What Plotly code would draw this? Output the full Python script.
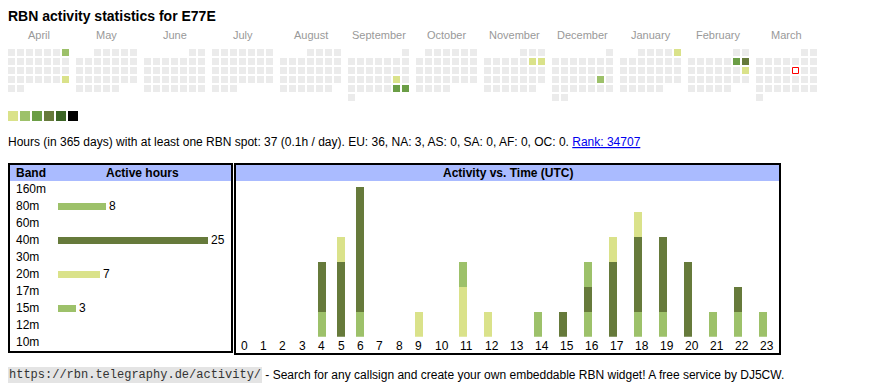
import datetime as dt
import plotly.graph_objects as go

# ---------------- data ----------------
CALLSIGN = "E77E"
MONTHS = ["April", "May", "June", "July", "August", "September", "October",
          "November", "December", "January", "February", "March"]
FIRST_DAY = "2024-04-01"
LAST_DAY = "2025-03-31"
TODAY = "2025-03-14"
ACTIVE_DAYS = ["2024-04-07", "2024-04-28", "2024-09-21", "2024-09-28", "2024-09-29",
               "2024-11-09", "2024-11-10", "2024-12-21", "2025-01-05", "2025-02-08",
               "2025-02-09", "2025-02-16"]
ACTIVE_LEVELS = [2, 1, 1, 3, 3, 1, 1, 2, 1, 3, 4, 1]

BANDS = ["160m", "80m", "60m", "40m", "30m", "20m", "17m", "15m", "12m", "10m"]
BAND_HOURS = [0, 8, 0, 25, 0, 7, 0, 3, 0, 0]

HOUR_LABELS = [str(h) for h in range(24)]
ACT_BANDS = ["80m", "40m", "20m", "15m"]
HOURS_80M = [0, 0, 0, 0, 1, 0, 1, 0, 0, 0, 0, 0, 0, 0, 0, 0, 1, 0, 1, 1, 0, 1, 1, 1]
HOURS_40M = [0, 0, 0, 0, 2, 3, 5, 0, 0, 0, 0, 0, 0, 0, 0, 1, 1, 3, 3, 3, 3, 0, 1, 0]
HOURS_20M = [0, 0, 0, 0, 0, 1, 0, 0, 0, 1, 0, 2, 1, 0, 0, 0, 0, 1, 1, 0, 0, 0, 0, 0]
HOURS_15M = [0, 0, 0, 0, 0, 0, 0, 0, 0, 0, 0, 1, 0, 0, 1, 0, 1, 0, 0, 0, 0, 0, 0, 0]

TOTAL_HOURS = 37
HOURS_PER_DAY = 0.1
CONTINENTS = ["EU", "NA", "AS", "SA", "AF", "OC"]
CONTINENT_HOURS = [36, 3, 0, 0, 0, 0]
RANK = 34707
SITE_URL = "https://rbn.telegraphy.de/activity/"
FOOTER_TEXT = " - Search for any callsign and create your own embeddable RBN widget! A free service by DJ5CW."

# ---------------- style ----------------
W, H = 870, 390
FONT = "Liberation Sans, Arial, Helvetica, sans-serif"
MONO = "Liberation Mono, Courier New, monospace"
LEVEL_COLORS = ["#dae28a", "#9dc16a", "#6b9e46", "#667a3b", "#3b6425", "#000000"]
EMPTY = "#ebebeb"
BAND_COLOR = {"160m": "#9dc16a", "80m": "#9dc16a", "60m": "#9dc16a", "40m": "#667a3b",
              "30m": "#6b9e46", "20m": "#dae28a", "17m": "#6b9e46", "15m": "#9dc16a",
              "12m": "#6b9e46", "10m": "#6b9e46"}
HEADER_BG = "#aabbff"
CAL_X0, CAL_Y0, CELL, SQ, MONTH_PITCH = 8, 49, 9, 7, 68

fig = go.Figure()
annotations = []
shapes = []


def txt(x, y, s, size=12, color="#000", bold=False, anchor="left", xref="x", yref="y", family=FONT, **kw):
    annotations.append(dict(x=x, y=y, xref=xref, yref=yref, text=f"<b>{s}</b>" if bold else s,
                            showarrow=False, xanchor=anchor, yanchor="middle",
                            font=dict(family=family, size=size, color=color),
                            borderpad=0, borderwidth=0, **kw))


# ---------------- calendar ----------------
active = dict(zip(ACTIVE_DAYS, ACTIVE_LEVELS))
first = dt.date.fromisoformat(FIRST_DAY)
end = dt.date.fromisoformat(LAST_DAY)


def cal_pos(d):
    mi = (d.year - first.year) * 12 + d.month - first.month
    idx = d.replace(day=1).weekday() + d.day - 1
    row, col = divmod(idx, 7)
    return CAL_X0 + mi * MONTH_PITCH + col * CELL + SQ / 2, CAL_Y0 + row * CELL + SQ / 2


cx, cy, cc = [], [], []
d = first
while d <= end:
    x, y = cal_pos(d)
    cx.append(x)
    cy.append(y)
    lvl = active.get(d.isoformat())
    cc.append(LEVEL_COLORS[lvl - 1] if lvl else EMPTY)
    d += dt.timedelta(days=1)

fig.add_trace(go.Scatter(x=cx, y=cy, mode="markers", xaxis="x", yaxis="y",
                         marker=dict(symbol="square", size=SQ, color=cc, line=dict(width=0)),
                         hoverinfo="skip", showlegend=False))
tx, ty = cal_pos(dt.date.fromisoformat(TODAY))
fig.add_trace(go.Scatter(x=[tx], y=[ty], mode="markers", xaxis="x", yaxis="y",
                         marker=dict(symbol="square", size=SQ - 1, color="#ffffff",
                                     line=dict(width=1, color="#ff0000")),
                         hoverinfo="skip", showlegend=False))

for i, m in enumerate(MONTHS):
    txt(CAL_X0 + i * MONTH_PITCH + (6 * CELL + SQ) / 2, 35, m, size=11, color="#999999", anchor="center")

# level legend
fig.add_trace(go.Scatter(x=[CAL_X0 + 5 + 12 * k for k in range(len(LEVEL_COLORS))],
                         y=[116] * len(LEVEL_COLORS), mode="markers", xaxis="x", yaxis="y",
                         marker=dict(symbol="square", size=10, color=LEVEL_COLORS, line=dict(width=0)),
                         hoverinfo="skip", showlegend=False))

# ---------------- texts ----------------
txt(8, 15.5, f"RBN activity statistics for {CALLSIGN}", size=14, bold=True)
cont = ", ".join(f"{c}: {v}" for c, v in zip(CONTINENTS, CONTINENT_HOURS))
txt(8, 142, f"Hours (in 365 days) with at least one RBN spot: {TOTAL_HOURS} ({HOURS_PER_DAY}h / day). "
            f"{cont}. <span style='color:#0000ee'><u>Rank: {RANK}</u></span>")
annotations.append(dict(x=8, y=375, xref="x", yref="y", text=SITE_URL, showarrow=False,
                        xanchor="left", yanchor="middle", bgcolor="#e4e4e4", borderpad=1, borderwidth=0,
                        font=dict(family=MONO, size=12, color="#333")))
txt(8 + 7.2 * len(SITE_URL) + 2, 375, FOOTER_TEXT)

# ---------------- boxes ----------------
shapes.append(dict(type="rect", xref="x", yref="y", x0=9, x1=232, y0=165, y1=181,
                   fillcolor=HEADER_BG, line=dict(width=0), layer="below"))
shapes.append(dict(type="rect", xref="x", yref="y", x0=235, x1=780, y0=165, y1=181,
                   fillcolor=HEADER_BG, line=dict(width=0), layer="below"))
shapes.append(dict(type="rect", xref="x", yref="y", x0=9, x1=232, y0=164, y1=352,
                   line=dict(width=2, color="#000")))
shapes.append(dict(type="rect", xref="x", yref="y", x0=235, x1=780, y0=164, y1=354,
                   line=dict(width=2, color="#000")))
txt(16, 173, "Band", bold=True)
txt(142, 173, "Active hours", bold=True, anchor="center")
txt(507.5, 173, "Activity vs. Time (UTC)", bold=True, anchor="center")

# ---------------- band chart ----------------
ROW_TOP, ROW_H = 180.8, 17
fig.add_trace(go.Bar(x=BAND_HOURS, y=list(range(len(BANDS))), orientation="h",
                     xaxis="x2", yaxis="y2", width=7 / ROW_H,
                     marker=dict(color=[BAND_COLOR[b] for b in BANDS], line=dict(width=0)),
                     text=[str(v) if v else "" for v in BAND_HOURS], textposition="outside",
                     textfont=dict(family=FONT, size=12, color="#000"), constraintext="none",
                     cliponaxis=False, hoverinfo="skip", showlegend=False))
for i, b in enumerate(BANDS):
    txt(16, i, b, xref="x", yref="y2")

# ---------------- activity chart ----------------
def col_width(label):
    return 5.6 * len(label) + 13.8


lefts = []
xx = 240
for lab in HOUR_LABELS:
    lefts.append(xx)
    xx += col_width(lab)

series = {"80m": HOURS_80M, "40m": HOURS_40M, "20m": HOURS_20M, "15m": HOURS_15M}
for b in ACT_BANDS:
    fig.add_trace(go.Bar(x=lefts, y=series[b], xaxis="x3", yaxis="y3", width=8, offset=0,
                         marker=dict(color=BAND_COLOR[b], line=dict(width=0)),
                         hoverinfo="skip", showlegend=False))
for lx, lab in zip(lefts, HOUR_LABELS):
    txt(lx + 0.5, 346, lab, xref="x3", yref="y")

totals = [sum(v) for v in zip(*series.values())]
BASE_Y, UNIT = 336.7, 25

fig.update_layout(
    width=W, height=H, margin=dict(l=0, r=0, t=0, b=0, pad=0),
    paper_bgcolor="#ffffff", plot_bgcolor="rgba(0,0,0,0)",
    barmode="stack", bargap=0, showlegend=False,
    xaxis=dict(domain=[0, 1], range=[0, W], visible=False, fixedrange=True, anchor="y"),
    yaxis=dict(domain=[0, 1], range=[H, 0], visible=False, fixedrange=True, anchor="x"),
    xaxis2=dict(domain=[58 / W, (58 + 6 * max(BAND_HOURS)) / W], range=[0, max(BAND_HOURS)],
                visible=False, fixedrange=True, anchor="y2"),
    yaxis2=dict(domain=[(H - ROW_TOP - ROW_H * len(BANDS)) / H, (H - ROW_TOP) / H],
                range=[len(BANDS) - 0.5, -0.5], visible=False, fixedrange=True, anchor="x2"),
    xaxis3=dict(domain=[0, 1], range=[0, W], visible=False, fixedrange=True, anchor="y3"),
    yaxis3=dict(domain=[(H - BASE_Y) / H, (H - BASE_Y + UNIT * max(totals)) / H],
                range=[0, max(totals)], visible=False, fixedrange=True, anchor="x3"),
    annotations=annotations, shapes=shapes,
    hovermode=False,
)

fig.write_html("out.html", config={"displayModeBar": False, "staticPlot": True},
               post_script="document.body.style.margin='0';document.body.style.overflow='hidden';")
